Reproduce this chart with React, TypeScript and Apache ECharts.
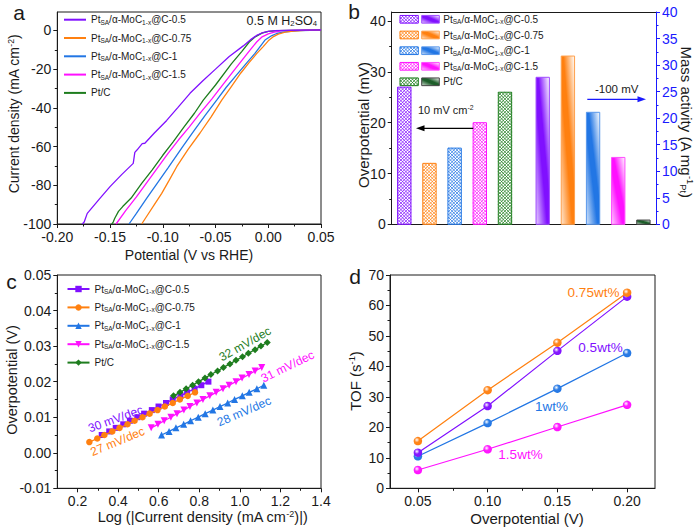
import React, { useEffect, useRef } from 'react';
import * as echarts from 'echarts';

const FONT = '"Liberation Sans", Arial, Helvetica, sans-serif';
const INK = '#1a1a1a';
const PURPLE = '#8010ff';
const ORANGE = '#ff8010';
const BLUE = '#2276e4';
const MAGENTA = '#ff10ff';
const GREEN = '#1e7d1e';
const PTC_DARK = '#1d5e2a';
const AXIS_BLUE = '#1a1aff';

// ---------- panel a : LSV (potential V vs RHE, current density mA cm-2)
const lsv05 = [
  [-0.1763, -100], [-0.1745, -99], [-0.1716, -94.5], [-0.170, -93.5], [-0.160, -87], [-0.150, -80.7],
  [-0.139, -74.5], [-0.128, -68.7], [-0.1265, -63], [-0.1245, -61.8], [-0.1195, -58.5], [-0.117, -58.3],
  [-0.108, -53], [-0.0963, -46.5], [-0.086, -40], [-0.0742, -32.5], [-0.062, -26], [-0.050, -20],
  [-0.037, -13.5], [-0.0237, -8], [-0.016, -4.5], [-0.011, -2.6], [-0.005, -1.1], [0.0, -0.5],
  [0.006, -0.1], [0.015, 0], [0.05, 0.2],
];
const lsv075 = [
  [-0.120, -100], [-0.1152, -96], [-0.108, -90], [-0.101, -84.2], [-0.094, -77.5], [-0.0868, -70.4],
  [-0.076, -61.5], [-0.0647, -53], [-0.054, -44.5], [-0.0441, -36], [-0.035, -29], [-0.026, -22],
  [-0.018, -16.5], [-0.011, -12], [-0.005, -8.5], [0.0, -5.4], [0.005, -3.2], [0.0095, -1.9],
  [0.016, -0.9], [0.024, -0.4], [0.035, 0], [0.05, 0.1],
];
const lsv1 = [
  [-0.132, -100], [-0.125, -94.5], [-0.115, -86.5], [-0.105, -78.7], [-0.095, -71], [-0.0811, -60],
  [-0.070, -51.5], [-0.060, -44], [-0.0489, -36], [-0.040, -29.5], [-0.030, -23], [-0.020, -16.5],
  [-0.0126, -11.9], [-0.0031, -5.0], [0.003, -2.8], [0.008, -1.6], [0.014, -0.9], [0.021, -0.5],
  [0.03, -0.1], [0.05, 0.1],
];
const lsv15 = [
  [-0.1443, -100], [-0.135, -93], [-0.125, -86], [-0.115, -78.5], [-0.105, -71], [-0.095, -63.5],
  [-0.085, -56.5], [-0.075, -50], [-0.065, -43], [-0.0536, -35.5], [-0.043, -28], [-0.033, -21],
  [-0.025, -15.5], [-0.0173, -10.2], [-0.011, -6], [-0.0063, -3.5], [0.0, -1.8], [0.0048, -1.0],
  [0.012, -0.3], [0.022, 0], [0.05, 0.2],
];
const lsvPtC = [
  [-0.1484, -100], [-0.147, -99], [-0.1455, -97], [-0.142, -93.5], [-0.138, -91], [-0.130, -86.6],
  [-0.120, -79], [-0.110, -72], [-0.100, -64.5], [-0.090, -57.4], [-0.080, -50], [-0.070, -42.8],
  [-0.0616, -36], [-0.050, -28.2], [-0.035, -17.3], [-0.025, -10.8], [-0.018, -6], [-0.012, -3.2],
  [-0.006, -1.4], [0.0, -0.5], [0.01, -0.1], [0.02, 0], [0.05, 0.2],
];

// ---------- panel b
const sampleKeys = ['0.5', '0.75', '1', '1.5', 'Pt/C'];
const overpotential10 = [27, 12, 15, 20, 26];
const massActivity100 = [27.7, 31.7, 21.1, 12.6, 0.8];

// ---------- panel c : Tafel
const tafelEta05 = [0.005, 0.006, 0.007, 0.008, 0.009, 0.010, 0.011, 0.012, 0.013, 0.014, 0.015, 0.016, 0.017, 0.018, 0.019, 0.020];
const tafelLog05 = [0.319, 0.356, 0.388, 0.425, 0.458, 0.495, 0.528, 0.566, 0.599, 0.636, 0.669, 0.707, 0.740, 0.777, 0.810, 0.845];
const tafelEta075 = [0.003, 0.004, 0.005, 0.006, 0.007, 0.008, 0.009, 0.010, 0.011, 0.012, 0.013, 0.014, 0.015, 0.016, 0.017];
const tafelLog075 = [0.258, 0.297, 0.332, 0.371, 0.407, 0.446, 0.481, 0.520, 0.555, 0.594, 0.630, 0.669, 0.704, 0.743, 0.779];
const tafelEta1 = [0.005, 0.006, 0.007, 0.008, 0.009, 0.010, 0.011, 0.012, 0.013, 0.014, 0.015, 0.016, 0.017, 0.018, 0.019];
const tafelLog1 = [0.614, 0.651, 0.685, 0.723, 0.757, 0.795, 0.829, 0.867, 0.902, 0.940, 0.974, 1.012, 1.046, 1.084, 1.118];
const tafelEta15 = [0.007, 0.008, 0.009, 0.010, 0.011, 0.012, 0.013, 0.014, 0.015, 0.016, 0.017, 0.018, 0.019, 0.020, 0.021, 0.022, 0.023, 0.024];
const tafelLog15 = [0.563, 0.596, 0.627, 0.660, 0.690, 0.724, 0.754, 0.788, 0.818, 0.852, 0.883, 0.917, 0.947, 0.981, 1.011, 1.045, 1.075, 1.108];
const tafelEtaPtC = [0.016, 0.017, 0.018, 0.019, 0.020, 0.021, 0.022, 0.023, 0.024, 0.025, 0.026, 0.027, 0.028, 0.029, 0.030, 0.031];
const tafelLogPtC = [0.673, 0.705, 0.735, 0.767, 0.796, 0.828, 0.857, 0.890, 0.919, 0.951, 0.981, 1.013, 1.042, 1.075, 1.104, 1.135];
const tafelSlopes = ['30 mV/dec', '27 mV/dec', '28 mV/dec', '31 mV/dec', '32 mV/dec'];

// ---------- panel d : TOF
const tofEta = [0.05, 0.10, 0.15, 0.20];
const tof075 = [15.5, 32.2, 47.8, 64.2];
const tof05 = [11.7, 27.0, 45.1, 62.9];
const tof1 = [10.5, 21.4, 32.7, 44.4];
const tof15 = [6.0, 12.8, 20.1, 27.4];
const tofLabels = ['0.75wt%', '0.5wt%', '1wt%', '1.5wt%'];

// ---------- tick values
const aXTicks = [-0.2, -0.15, -0.1, -0.05, 0, 0.05];
const aXMinor = [-0.175, -0.125, -0.075, -0.025, 0.025];
const aYTicks = [-100, -80, -60, -40, -20, 0];
const aYMinor = [-90, -70, -50, -30, -10];
const bLeftTicks = [0, 10, 20, 30, 40];
const bLeftMinor = [5, 15, 25, 35];
const bRightTicks = [0, 5, 10, 15, 20, 25, 30, 35, 40];
const bRightMinor = [2.5, 7.5, 12.5, 17.5, 22.5, 27.5, 32.5, 37.5];
const cXTicks = [0.2, 0.4, 0.6, 0.8, 1.0, 1.2, 1.4];
const cXMinor = [0.3, 0.5, 0.7, 0.9, 1.1, 1.3];
const cYTicks = [-0.01, 0, 0.01, 0.02, 0.03, 0.04, 0.05];
const cYMinor = [-0.005, 0.005, 0.015, 0.025, 0.035, 0.045];
const dXTicks = [0.05, 0.10, 0.15, 0.20];
const dXMinor = [0.075, 0.125, 0.175];
const dYTicks = [0, 10, 20, 30, 40, 50, 60, 70];
const dYMinor = [5, 15, 25, 35, 45, 55, 65];

const sampleColors = [PURPLE, ORANGE, BLUE, MAGENTA, GREEN];

function mix(hex: string, t: number) {
  const n = parseInt(hex.slice(1), 16);
  const r = (n >> 16) & 255, g = (n >> 8) & 255, b = n & 255;
  const f = (c: number) => Math.round(c + (255 - c) * t);
  return `rgb(${f(r)},${f(g)},${f(b)})`;
}

const richSample = (s: string) =>
  s === 'Pt/C' ? '{m|Pt/C}' : `{m|Pt}{s|SA}{m|/α-MoC}{s|1-x}{m|@C-${s}}`;

const legendRich: any = {
  m: { fontFamily: FONT, fontSize: 10, color: INK, lineHeight: 12 },
  s: { fontFamily: FONT, fontSize: 6.5, color: INK, lineHeight: 6, verticalAlign: 'bottom' },
};

const titleRich = (size: number, color = INK): any => ({
  t: { fontFamily: FONT, fontSize: size, color, lineHeight: size + 1 },
  p: { fontFamily: FONT, fontSize: size * 0.62, color, verticalAlign: 'top', lineHeight: size * 0.62 },
  b: { fontFamily: FONT, fontSize: size * 0.62, color, verticalAlign: 'bottom', lineHeight: size * 0.62 },
});

const tickFont = { fontFamily: FONT, fontSize: 14, color: INK };

function mainAxis(grid: number, min: number, max: number, ticks: number[], fmt: (v: number) => string, extra: any = {}, color = INK) {
  return {
    type: 'value', gridIndex: grid, min, max,
    axisLine: { show: true, onZero: false, lineStyle: { color, width: 1 } },
    axisTick: { show: true, inside: false, length: 4, customValues: ticks, lineStyle: { color, width: 1 } },
    axisLabel: { show: true, customValues: ticks, formatter: fmt, margin: 6, ...tickFont, color },
    splitLine: { show: false },
    ...extra,
  };
}
function minorAxis(grid: number, min: number, max: number, ticks: number[], extra: any = {}, color = INK) {
  return {
    type: 'value', gridIndex: grid, min, max,
    axisLine: { show: false, onZero: false },
    axisTick: { show: true, inside: false, length: 2.5, customValues: ticks, lineStyle: { color, width: 1 } },
    axisLabel: { show: false },
    splitLine: { show: false },
    ...extra,
  };
}
function plainAxis(grid: number, min: number, max: number, position: string) {
  return {
    type: 'value', gridIndex: grid, min, max, position,
    axisLine: { show: true, onZero: false, lineStyle: { color: INK, width: 1 } },
    axisTick: { show: false }, axisLabel: { show: false }, splitLine: { show: false },
  };
}

function hatchLines(x0: number, y0: number, x1: number, y1: number, step: number, color: string, lw: number) {
  const out: any[] = [];
  for (let c = Math.floor((x0 - y1) / step) * step; c <= x1 - y0; c += step) {
    const xs = Math.max(x0, y0 + c), xe = Math.min(x1, y1 + c);
    if (xe > xs) out.push({ type: 'line', shape: { x1: xs, y1: xs - c, x2: xe, y2: xe - c }, style: { stroke: color, lineWidth: lw } });
  }
  for (let c = Math.floor((x0 + y0) / step) * step; c <= x1 + y1; c += step) {
    const xs = Math.max(x0, c - y1), xe = Math.min(x1, c - y0);
    if (xe > xs) out.push({ type: 'line', shape: { x1: xs, y1: c - xs, x2: xe, y2: c - xe }, style: { stroke: color, lineWidth: lw } });
  }
  return out;
}

function gradFill(color: string) {
  return {
    type: 'linear', x: 1, y: 0, x2: 0, y2: 1,
    colorStops: [
      { offset: 0, color: '#ffffff' },
      { offset: 0.42, color },
      { offset: 0.58, color },
      { offset: 1, color: mix(color, 0.8) },
    ],
  };
}

const BAR_W = 0.53;
const HATCH_STEP = 3.3;

function buildOption(): any {
  const aNames = sampleKeys.map((k) => 'a:' + k);
  const cNames = sampleKeys.map((k) => 'c:' + k);
  const nameMap: any = {};
  sampleKeys.forEach((k) => { nameMap['a:' + k] = richSample(k); nameMap['c:' + k] = richSample(k); });

  const lsvData = [lsv05, lsv075, lsv1, lsv15, lsvPtC];
  const tafelX = [tafelLog05, tafelLog075, tafelLog1, tafelLog15, tafelLogPtC];
  const tafelY = [tafelEta05, tafelEta075, tafelEta1, tafelEta15, tafelEtaPtC];
  const tafelSymbols = ['rect', 'circle', 'triangle', 'triangle', 'diamond'];
  const tafelSizes = [6, 6.5, 7, 7, 7];
  const tafelRot = [0, 0, 0, 180, 0];

  const series: any[] = [];
  lsvData.forEach((d, i) => {
    series.push({
      type: 'line', name: aNames[i], data: d, xAxisIndex: 0, yAxisIndex: 0,
      symbol: 'none', lineStyle: { color: sampleColors[i], width: 1.3 }, itemStyle: { color: sampleColors[i] },
      z: 3 + (4 - i),
    });
  });

  // panel b bars
  const hatchColors = sampleColors;
  const gradColors = [PURPLE, ORANGE, BLUE, MAGENTA, PTC_DARK];
  series.push({
    type: 'custom', name: 'overpotential', coordinateSystem: 'cartesian2d', xAxisIndex: 2, yAxisIndex: 2,
    encode: { x: 0, y: 1 },
    data: overpotential10.map((v, i) => [i + 0.5, v, i]),
    renderItem: (params: any, api: any) => {
      const i = api.value(2);
      const xv = api.value(0), yv = api.value(1);
      const top = api.coord([xv, yv]);
      const bot = api.coord([xv, 0]);
      const w = api.size([BAR_W, 0])[0];
      const x0 = top[0] - w / 2, x1 = top[0] + w / 2, y0 = top[1], y1 = bot[1];
      const col = hatchColors[i];
      return {
        type: 'group',
        children: [
          { type: 'rect', shape: { x: x0, y: y0, width: w, height: y1 - y0 }, style: { fill: '#ffffff' } },
          ...hatchLines(x0, y0, x1, y1, HATCH_STEP, col, 0.75),
          { type: 'rect', shape: { x: x0, y: y0, width: w, height: y1 - y0 }, style: { fill: 'none', stroke: col, lineWidth: 1 } },
        ],
      };
    },
  });
  series.push({
    type: 'custom', name: 'mass activity', coordinateSystem: 'cartesian2d', xAxisIndex: 2, yAxisIndex: 4,
    encode: { x: 0, y: 1 },
    data: massActivity100.map((v, i) => [i + 6, v, i]),
    renderItem: (params: any, api: any) => {
      const i = api.value(2);
      const xv = api.value(0), yv = api.value(1);
      const top = api.coord([xv, yv]);
      const bot = api.coord([xv, 0]);
      const w = api.size([BAR_W, 0])[0];
      const col = gradColors[i];
      return {
        type: 'rect', shape: { x: top[0] - w / 2, y: top[1], width: w, height: bot[1] - top[1] },
        style: { fill: gradFill(col), stroke: i === 4 ? '#444' : mix(col, 0.25), lineWidth: 1 },
      };
    },
  });

  // panel c
  tafelX.forEach((xs, i) => {
    series.push({
      type: 'line', name: cNames[i], data: xs.map((x, j) => [x, tafelY[i][j]]), xAxisIndex: 4, yAxisIndex: 6,
      symbol: tafelSymbols[i], symbolSize: tafelSizes[i], symbolRotate: tafelRot[i], showSymbol: true,
      lineStyle: { color: sampleColors[i], width: 1.3 }, itemStyle: { color: sampleColors[i] },
      z: 3 + i,
    });
  });

  // panel d
  const tofSets = [tof075, tof05, tof1, tof15];
  const tofColors = [ORANGE, PURPLE, BLUE, MAGENTA];
  tofSets.forEach((ys, i) => {
    const col = tofColors[i];
    series.push({
      type: 'line', name: 'd:' + tofLabels[i], data: ys.map((y, j) => [tofEta[j], y]), xAxisIndex: 6, yAxisIndex: 8,
      symbol: 'circle', symbolSize: 8.5, showSymbol: true,
      lineStyle: { color: col, width: 1.2 },
      itemStyle: {
        color: {
          type: 'radial', x: 0.38, y: 0.36, r: 0.66,
          colorStops: [{ offset: 0, color: '#ffffff' }, { offset: 0.45, color: mix(col, 0.05) }, { offset: 1, color: col }],
        },
      },
      z: 3 + (3 - i),
    });
  });

  // graphic
  const g: any[] = [];
  const txt = (x: number, y: number, text: string, rich: any, opts: any = {}) => ({
    type: 'text', x, y, rotation: opts.rotation || 0, z: 50,
    style: { text, rich, align: opts.align || 'center', verticalAlign: 'middle', fill: opts.fill || INK, fontFamily: FONT, fontSize: opts.fontSize || 14 },
  });
  // panel letters
  [['a', 19, 12.5], ['b', 354, 11.5], ['c', 11.5, 281], ['d', 355, 276]].forEach(([t, x, y]: any) => {
    g.push({ type: 'text', x, y, z: 50, style: { text: t, fontFamily: FONT, fontSize: 21, fill: INK, align: 'center', verticalAlign: 'middle' } });
  });
  // axis titles
  g.push(txt(13.5, 114, '{t|Current density (mA cm}{p|-2}{t|)}', titleRich(14), { rotation: Math.PI / 2 }));
  g.push(txt(189, 255, '{t|Potential (V vs RHE)}', titleRich(14)));
  g.push(txt(363, 125, '{t|Overpotential (mV)}', titleRich(15), { rotation: Math.PI / 2 }));
  g.push(txt(686.5, 122, '{t|Mass activity (A mg}{p|-1}{b|Pt}{t|)}', titleRich(15, AXIS_BLUE), { rotation: -Math.PI / 2 }));
  g.push(txt(11.5, 380, '{t|Overpotential (V)}', titleRich(14.5), { rotation: Math.PI / 2 }));
  g.push(txt(202.5, 517, '{t|Log (|Current density (mA cm}{p|-2}{t|)|)}', titleRich(14.5)));
  g.push(txt(355, 381, '{t|TOF (s}{p|-1}{t|)}', titleRich(15), { rotation: Math.PI / 2 }));
  g.push(txt(527, 518, '{t|Overpotential (V)}', titleRich(15)));
  // electrolyte
  g.push(txt(317, 21, '{t|0.5 M H}{b|2}{t|SO}{b|4}', titleRich(12.5), { align: 'right' }));

  // panel b legend
  const rowY = [19.3, 35, 50.7, 66.3, 81.8];
  sampleKeys.forEach((k, i) => {
    const cy = rowY[i];
    const hx0 = 400, hw = 18.3, hh = 7.7;
    const y0 = cy - hh / 2, y1 = cy + hh / 2;
    g.push({
      type: 'group', z: 40,
      children: [
        { type: 'rect', shape: { x: hx0, y: y0, width: hw, height: hh }, style: { fill: '#fff' } },
        ...hatchLines(hx0, y0, hx0 + hw, y1, HATCH_STEP, hatchColors[i], 0.75),
        { type: 'rect', shape: { x: hx0, y: y0, width: hw, height: hh }, style: { fill: 'none', stroke: hatchColors[i], lineWidth: 1 } },
        { type: 'rect', shape: { x: 421.7, y: y0, width: 17.6, height: hh }, style: { fill: gradFill(gradColors[i]), stroke: i === 4 ? '#444' : mix(gradColors[i], 0.25), lineWidth: 1 } },
      ],
    });
    g.push(txt(443.3, cy, richSample(k), legendRich, { align: 'left' }));
  });

  // panel b annotations
  g.push(txt(418, 110, '{t|10 mV cm}{p|-2}', titleRich(11), { align: 'left' }));
  g.push({ type: 'line', z: 40, shape: { x1: 473.3, y1: 128.3, x2: 421, y2: 128.3 }, style: { stroke: '#000', lineWidth: 1.3 } });
  g.push({ type: 'polygon', z: 40, shape: { points: [[416, 128.3], [424.5, 125.3], [424.5, 131.3]] }, style: { fill: '#000' } });
  g.push(txt(595, 89, '{t|-100 mV}', titleRich(11.5, AXIS_BLUE), { align: 'left' }));
  g.push({ type: 'line', z: 40, shape: { x1: 587.3, y1: 99.3, x2: 641, y2: 99.3 }, style: { stroke: AXIS_BLUE, lineWidth: 1.3 } });
  g.push({ type: 'polygon', z: 40, shape: { points: [[646, 99.3], [637.5, 96.3], [637.5, 102.3]] }, style: { fill: AXIS_BLUE } });

  // panel c slope labels
  const slopePos = [
    [115.5, 419, 20, PURPLE], [117.5, 441.5, 22.5, ORANGE], [244, 411.5, 23.5, BLUE], [287.5, 366.5, 26, MAGENTA], [245, 344, 29.5, GREEN],
  ];
  tafelSlopes.forEach((s, i) => {
    const [x, y, ang, col]: any = slopePos[i];
    g.push({ type: 'text', x, y, rotation: (ang * Math.PI) / 180, z: 50, style: { text: s, fontFamily: FONT, fontSize: 12, fill: col, align: 'center', verticalAlign: 'middle' } });
  });

  // panel d labels
  const tofLabelPos = [[593.5, 292.5], [600.5, 347.5], [551.5, 406], [520.5, 454.5]];
  tofLabels.forEach((s, i) => {
    g.push({ type: 'text', x: tofLabelPos[i][0], y: tofLabelPos[i][1], z: 50, style: { text: s, fontFamily: FONT, fontSize: 13.5, fill: tofColors[i], align: 'center', verticalAlign: 'middle' } });
  });

  const f2 = (v: number) => v.toFixed(2);
  const f1 = (v: number) => v.toFixed(1);
  const f0 = (v: number) => String(Math.round(v));

  return {
    animation: false,
    backgroundColor: '#ffffff',
    textStyle: { fontFamily: FONT },
    grid: [
      { left: 57.3, top: 12, width: 263.7, height: 212, show: true, borderColor: INK, borderWidth: 1, backgroundColor: 'transparent' },
      { left: 391.7, top: 12, width: 264.3, height: 212.3, show: false },
      { left: 57.3, top: 275, width: 263.7, height: 213.3, show: true, borderColor: INK, borderWidth: 1, backgroundColor: 'transparent' },
      { left: 390, top: 275, width: 265, height: 213.3, show: true, borderColor: INK, borderWidth: 1, backgroundColor: 'transparent' },
    ],
    xAxis: [
      mainAxis(0, -0.2, 0.05, aXTicks, f2, { position: 'bottom' }),
      minorAxis(0, -0.2, 0.05, aXMinor, { position: 'bottom' }),
      plainAxis(1, 0, 10.5, 'bottom'),
      plainAxis(1, 0, 10.5, 'top'),
      mainAxis(2, 0.1, 1.4, cXTicks, f1, { position: 'bottom' }),
      minorAxis(2, 0.1, 1.4, cXMinor, { position: 'bottom' }),
      mainAxis(3, 0.03, 0.22, dXTicks, f2, { position: 'bottom' }),
      minorAxis(3, 0.03, 0.22, dXMinor, { position: 'bottom' }),
    ],
    yAxis: [
      mainAxis(0, -100, 9.5, aYTicks, f0, { position: 'left' }),
      minorAxis(0, -100, 9.5, aYMinor, { position: 'left' }),
      mainAxis(1, 0, 41.8, bLeftTicks, f0, { position: 'left' }),
      minorAxis(1, 0, 41.8, bLeftMinor, { position: 'left' }),
      mainAxis(1, 0, 40, bRightTicks, f0, { position: 'right' }, AXIS_BLUE),
      minorAxis(1, 0, 40, bRightMinor, { position: 'right' }, AXIS_BLUE),
      mainAxis(2, -0.01, 0.05, cYTicks, f2, { position: 'left' }),
      minorAxis(2, -0.01, 0.05, cYMinor, { position: 'left' }),
      mainAxis(3, 0, 70, dYTicks, f0, { position: 'left' }),
      minorAxis(3, 0, 70, dYMinor, { position: 'left' }),
    ],
    legend: [
      {
        show: true, orient: 'vertical', left: 63, top: 14.7, padding: 0, itemGap: 7.3, itemWidth: 22, itemHeight: 10,
        selectedMode: false, data: aNames, formatter: (n: string) => nameMap[n],
        itemStyle: { opacity: 0 },
        textStyle: { fontFamily: FONT, fontSize: 10, color: INK, rich: legendRich },
      },
      {
        show: true, orient: 'vertical', left: 66.5, top: 284, padding: 0, itemGap: 7.4, itemWidth: 22, itemHeight: 8,
        selectedMode: false, data: cNames, formatter: (n: string) => nameMap[n],
        textStyle: { fontFamily: FONT, fontSize: 10, color: INK, rich: legendRich },
      },
    ],
    series,
    graphic: g,
  };
}

export default function App() {
  const ref = useRef<HTMLDivElement>(null);
  useEffect(() => {
    const chart = echarts.init(ref.current as HTMLDivElement, undefined, { renderer: 'svg' });
    chart.setOption(buildOption());
    return () => chart.dispose();
  }, []);
  return (
    <div
      ref={ref}
      style={{ position: 'fixed', left: 0, top: 0, width: 699, height: 531, background: '#ffffff' }}
    />
  );
}
